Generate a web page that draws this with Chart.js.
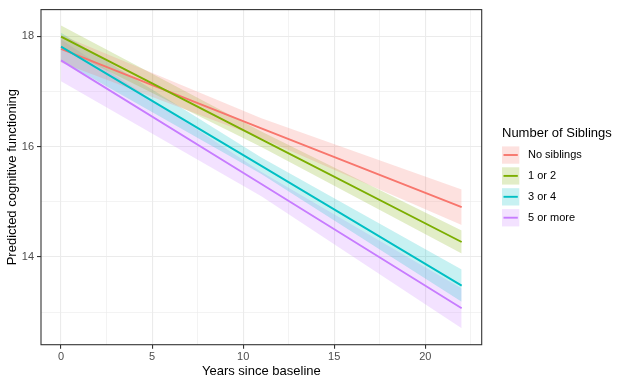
<!DOCTYPE html>
<html>
<head>
<meta charset="utf-8">
<script src="https://cdn.jsdelivr.net/npm/chart.js@4.4.1/dist/chart.umd.min.js"></script>
<style>
  body { margin: 0; background: #fff; }
  #wrap { width: 624px; height: 385px; }
</style>
</head>
<body>
<div id="wrap"><canvas id="grafico" width="624" height="385"></canvas></div>
<script>
// dados
var anos = [0, 11, 22];
var grupos = ['No siblings', '1 or 2', '3 or 4', '5 or more'];
var cores = ['#F8766D', '#7CAE00', '#00BFC4', '#C77CFF'];

var pred_none = [17.77, 16.33, 14.90];
var low_none  = [17.52, 16.15, 14.58];
var upp_none  = [18.02, 16.51, 15.22];

var pred_12 = [17.99, 16.13, 14.27];
var low_12  = [17.79, 15.99, 14.06];
var upp_12  = [18.19, 16.27, 14.48];

var pred_34 = [17.81, 15.65, 13.48];
var low_34  = [17.56, 15.50, 13.19];
var upp_34  = [18.06, 15.80, 13.77];

var pred_5 = [17.56, 15.32, 13.07];
var low_5  = [17.18, 15.10, 12.71];
var upp_5  = [17.94, 15.54, 13.43];

var xTicks = [0, 2.5, 5, 7.5, 10, 12.5, 15, 17.5, 20, 22.5];
var xLabels = ['0', '', '5', '', '10', '', '15', '', '20', ''];
var yTicks = [13, 14, 15, 16, 17, 18];
var yLabels = ['', '14', '', '16', '', '18'];

var preds = [pred_none, pred_12, pred_34, pred_5];
var lows = [low_none, low_12, low_34, low_5];
var upps = [upp_none, upp_12, upp_34, upp_5];

function pontos(ys) {
    var lista = [];
    for (let i = 0; i < anos.length; i++) {
        lista.push({ x: anos[i], y: ys[i] });
    }
    return lista;
}

function alpha(hex, a) {
    var r = parseInt(hex.substr(1, 2), 16);
    var g = parseInt(hex.substr(3, 2), 16);
    var b = parseInt(hex.substr(5, 2), 16);
    return 'rgba(' + r + ',' + g + ',' + b + ',' + a + ')';
}

var datasets = [];
// faixas de confianca primeiro
for (let c = 0; c < grupos.length; c++) {
    datasets.push({
        label: grupos[c] + ' low',
        data: pontos(lows[c]),
        borderWidth: 0,
        pointRadius: 0,
        fill: false,
        order: 10
    });
    datasets.push({
        label: grupos[c] + ' up',
        data: pontos(upps[c]),
        borderWidth: 0,
        pointRadius: 0,
        backgroundColor: alpha(cores[c], 0.22),
        fill: datasets.length - 1,
        order: 10
    });
}
// linhas por cima
for (let c = 0; c < grupos.length; c++) {
    datasets.push({
        label: grupos[c],
        data: pontos(preds[c]),
        borderColor: cores[c],
        borderWidth: 1.9,
        pointRadius: 0,
        fill: false,
        order: 5 - c
    });
}

var FONTE = "'Liberation Sans', Arial, sans-serif";

var borda = {
    id: 'borda',
    afterDraw: function (chart) {
        var ctx = chart.ctx;
        var a = chart.chartArea;
        ctx.save();
        ctx.strokeStyle = '#333333';
        ctx.lineWidth = 1.1;
        ctx.strokeRect(a.left, a.top, a.right - a.left, a.bottom - a.top);

        // legenda
        var lx = 502;
        ctx.fillStyle = '#000';
        ctx.font = '13px ' + FONTE;
        ctx.textBaseline = 'middle';
        ctx.textAlign = 'left';
        ctx.fillText('Number of Siblings', lx, 133);
        ctx.font = '11px ' + FONTE;
        for (let c = 0; c < grupos.length; c++) {
            var cy = 155 + c * 20.9;
            ctx.fillStyle = alpha(cores[c], 0.22);
            ctx.fillRect(lx, cy - 8.6, 17.3, 17.3);
            ctx.strokeStyle = cores[c];
            ctx.lineWidth = 1.9;
            ctx.beginPath();
            ctx.moveTo(lx + 1.5, cy);
            ctx.lineTo(lx + 15.8, cy);
            ctx.stroke();
            ctx.fillStyle = '#000';
            ctx.fillText(grupos[c], 528, cy);
        }
        ctx.restore();
    }
};

new Chart(document.getElementById('grafico'), {
    type: 'line',
    data: { datasets: datasets },
    options: {
        responsive: false,
        animation: false,
        layout: { padding: { left: 0, top: 6, right: 142.3, bottom: 0 } },
        plugins: {
            legend: { display: false },
            tooltip: { enabled: false }
        },
        scales: {
            x: {
                type: 'linear',
                min: -1.1,
                max: 23.1,
                afterBuildTicks: function (scale) {
                    scale.ticks = xTicks.map(function (v) { return { value: v }; });
                },
                afterFit: function (scale) { scale.height = 40.3; },
                ticks: {
                    autoSkip: false,
                    maxRotation: 0,
                    padding: 2,
                    color: '#4d4d4d',
                    font: { family: FONTE, size: 11 },
                    callback: function (v, i) { return xLabels[i]; }
                },
                grid: {
                    color: '#ebebeb',
                    lineWidth: function (ctx) { return xLabels[ctx.index] ? 1.1 : 0.6; },
                    tickLength: 4,
                    tickColor: function (ctx) { return xLabels[ctx.index] ? '#333333' : 'rgba(0,0,0,0)'; },
                    tickWidth: 1.1
                },
                border: { display: false },
                title: {
                    display: true,
                    text: 'Years since baseline',
                    color: '#000',
                    font: { family: FONTE, size: 13 },
                    padding: { top: 0, bottom: 5.5 }
                }
            },
            y: {
                type: 'linear',
                min: 12.41,
                max: 18.48,
                afterBuildTicks: function (scale) {
                    scale.ticks = yTicks.map(function (v) { return { value: v }; });
                },
                afterFit: function (scale) { scale.width = 41; },
                ticks: {
                    autoSkip: false,
                    padding: 3,
                    color: '#4d4d4d',
                    font: { family: FONTE, size: 11 },
                    callback: function (v, i) { return yLabels[i]; }
                },
                grid: {
                    color: '#ebebeb',
                    lineWidth: function (ctx) { return yLabels[ctx.index] ? 1.1 : 0.6; },
                    tickLength: 4,
                    tickColor: function (ctx) { return yLabels[ctx.index] ? '#333333' : 'rgba(0,0,0,0)'; },
                    tickWidth: 1.1
                },
                border: { display: false },
                title: {
                    display: true,
                    text: 'Predicted cognitive functioning',
                    color: '#000',
                    font: { family: FONTE, size: 13 },
                    padding: { top: 4.7, bottom: 0 }
                }
            }
        }
    },
    plugins: [borda]
});
</script>
</body>
</html>
